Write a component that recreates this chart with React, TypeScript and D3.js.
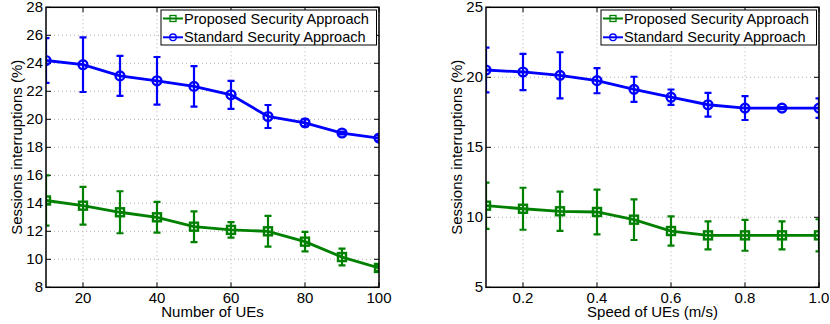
import * as d3 from "d3";

// left panel: number of UEs
const ueCounts = [10, 20, 30, 40, 50, 60, 70, 80, 90, 100];
const ueStandard = [24.2, 23.9, 23.1, 22.75, 22.35, 21.75, 20.2, 19.75, 19.02, 18.66];
const ueStandardErr = [1.6, 1.95, 1.43, 1.7, 1.45, 1.0, 0.82, 0.25, 0.1, 0.2];
const ueProposed = [14.2, 13.83, 13.36, 13.0, 12.33, 12.1, 12.0, 11.26, 10.16, 9.38];
const ueProposedErr = [1.8, 1.35, 1.5, 1.1, 1.1, 0.55, 1.1, 0.7, 0.6, 0.2];
const ueXTicks = [20, 40, 60, 80, 100];
const ueYTicks = [8, 10, 12, 14, 16, 18, 20, 22, 24, 26, 28];

// right panel: speed of UEs
const speeds = [0.1, 0.2, 0.3, 0.4, 0.5, 0.6, 0.7, 0.8, 0.9, 1.0];
const speedStandard = [20.52, 20.38, 20.14, 19.76, 19.14, 18.58, 18.04, 17.8, 17.8, 17.8];
const speedStandardErr = [1.6, 1.3, 1.65, 0.9, 0.9, 0.55, 0.85, 0.85, 0.08, 0.7];
const speedProposed = [10.83, 10.61, 10.43, 10.38, 9.83, 9.02, 8.71, 8.71, 8.71, 8.71];
const speedProposedErr = [1.65, 1.5, 1.4, 1.6, 1.45, 1.05, 1.0, 1.1, 1.0, 1.15];
const speedXTicks = [0.2, 0.4, 0.6, 0.8, 1.0];
const speedYTicks = [5, 10, 15, 20, 25];

const legendLabels = ["Proposed Security Approach", "Standard Security Approach"];
const GREEN = "#008000";
const BLUE = "#0000ff";
const FONT = "'Liberation Sans', Arial, sans-serif";
const FS = 15;

type PanelProps = {
  id: string;
  left: number;
  right: number;
  xs: number[];
  proposed: number[];
  proposedErr: number[];
  standard: number[];
  standardErr: number[];
  xDomain: [number, number];
  yDomain: [number, number];
  xTicks: number[];
  yTicks: number[];
  xFormat: (v: number) => string;
  xLabel: string;
};

function Panel({
  id,
  left,
  right,
  xs,
  proposed,
  proposedErr,
  standard,
  standardErr,
  xDomain,
  yDomain,
  xTicks,
  yTicks,
  xFormat,
  xLabel,
}: PanelProps) {
  const top = 7.3;
  const bottom = 287.3;
  const x = d3.scaleLinear().domain(xDomain).range([left, right]);
  const y = d3.scaleLinear().domain(yDomain).range([bottom, top]);
  const line = d3
    .line<number>()
    .x((_, i) => x(xs[i]))
    .y((d) => y(d));

  const series = [
    { vals: proposed, err: proposedErr, color: GREEN, marker: "square" },
    { vals: standard, err: standardErr, color: BLUE, marker: "circle" },
  ];

  const legendLeft = right - 218;

  return (
    <g fontFamily={FONT}>
      <defs>
        <clipPath id={id}>
          <rect x={left} y={top} width={right - left} height={bottom - top} />
        </clipPath>
      </defs>
      {/* grid */}
      <g stroke="#b0b0b0" strokeWidth={1} strokeDasharray="1,3">
        {xTicks.map((t) => (
          <line key={"gx" + t} x1={x(t)} x2={x(t)} y1={top} y2={bottom} />
        ))}
        {yTicks.map((t) => (
          <line key={"gy" + t} x1={left} x2={right} y1={y(t)} y2={y(t)} />
        ))}
      </g>
      {/* ticks */}
      <g stroke="#000" strokeWidth={1}>
        {xTicks.map((t) => (
          <g key={"tx" + t}>
            <line x1={x(t)} x2={x(t)} y1={bottom} y2={bottom - 5} />
            <line x1={x(t)} x2={x(t)} y1={top} y2={top + 5} />
          </g>
        ))}
        {yTicks.map((t) => (
          <g key={"ty" + t}>
            <line x1={left} x2={left + 5} y1={y(t)} y2={y(t)} />
            <line x1={right} x2={right - 5} y1={y(t)} y2={y(t)} />
          </g>
        ))}
      </g>
      {/* data */}
      <g clipPath={`url(#${id})`}>
        {series.map((s, si) => (
          <g key={si} stroke={s.color} fill="none">
            {s.vals.map((v, i) => {
              const cx = x(xs[i]);
              const hi = y(v + s.err[i]);
              const lo = y(v - s.err[i]);
              return (
                <g key={i} strokeWidth={2.2}>
                  <line x1={cx} x2={cx} y1={hi} y2={lo} />
                  <line x1={cx - 3.5} x2={cx + 3.5} y1={hi} y2={hi} />
                  <line x1={cx - 3.5} x2={cx + 3.5} y1={lo} y2={lo} />
                </g>
              );
            })}
            <path d={line(s.vals) || undefined} strokeWidth={2.8} />
            {s.vals.map((v, i) =>
              s.marker === "square" ? (
                <rect
                  key={"m" + i}
                  x={x(xs[i]) - 4}
                  y={y(v) - 4}
                  width={8}
                  height={8}
                  strokeWidth={2.4}
                />
              ) : (
                <circle key={"m" + i} cx={x(xs[i])} cy={y(v)} r={4.4} strokeWidth={2.4} />
              )
            )}
          </g>
        ))}
      </g>
      {/* frame */}
      <rect
        x={left}
        y={top}
        width={right - left}
        height={bottom - top}
        fill="none"
        stroke="#000"
        strokeWidth={1.5}
      />
      {/* tick labels */}
      <g fontSize={FS} fill="#000">
        {xTicks.map((t) => (
          <text key={"lx" + t} x={x(t)} y={303} textAnchor="middle">
            {xFormat(t)}
          </text>
        ))}
        {yTicks.map((t) => (
          <text key={"ly" + t} x={left - 3} y={y(t) + 5} textAnchor="end">
            {t}
          </text>
        ))}
      </g>
      <text x={(left + right) / 2} y={317} fontSize={FS} textAnchor="middle">
        {xLabel}
      </text>
      <text
        transform={`translate(${left - 24.5},${(top + bottom) / 2}) rotate(-90)`}
        fontSize={FS}
        textAnchor="middle"
      >
        Sessions interruptions (%)
      </text>
      {/* legend */}
      <g>
        <rect
          x={legendLeft}
          y={10}
          width={right - 2.5 - legendLeft}
          height={35}
          fill="#fff"
          stroke="#000"
          strokeWidth={1}
        />
        {legendLabels.map((lab, i) => {
          const ly = 18.5 + i * 18.8;
          const color = i === 0 ? GREEN : BLUE;
          return (
            <g key={lab}>
              <line
                x1={legendLeft + 2}
                x2={legendLeft + 22}
                y1={ly}
                y2={ly}
                stroke={color}
                strokeWidth={2}
              />
              {i === 0 ? (
                <rect
                  x={legendLeft + 9}
                  y={ly - 3}
                  width={6}
                  height={6}
                  fill="none"
                  stroke={color}
                  strokeWidth={1.3}
                />
              ) : (
                <circle cx={legendLeft + 12} cy={ly} r={3.3} fill="none" stroke={color} strokeWidth={1.3} />
              )}
              <text x={legendLeft + 23} y={ly + 5} fontSize={14.6}>
                {lab}
              </text>
            </g>
          );
        })}
      </g>
    </g>
  );
}

export default function App() {
  return (
    <svg
      width={830}
      height={324}
      style={{ position: "absolute", left: 0, top: 0, background: "#fff" }}
    >
      <Panel
        id="clip-ue"
        left={46}
        right={379}
        xs={ueCounts}
        proposed={ueProposed}
        proposedErr={ueProposedErr}
        standard={ueStandard}
        standardErr={ueStandardErr}
        xDomain={[10, 100]}
        yDomain={[8, 28]}
        xTicks={ueXTicks}
        yTicks={ueYTicks}
        xFormat={(v) => String(v)}
        xLabel="Number of UEs"
      />
      <Panel
        id="clip-speed"
        left={486}
        right={819}
        xs={speeds}
        proposed={speedProposed}
        proposedErr={speedProposedErr}
        standard={speedStandard}
        standardErr={speedStandardErr}
        xDomain={[0.1, 1.0]}
        yDomain={[5, 25]}
        xTicks={speedXTicks}
        yTicks={speedYTicks}
        xFormat={(v) => d3.format(".1f")(v)}
        xLabel="Speed of UEs (m/s)"
      />
    </svg>
  );
}
